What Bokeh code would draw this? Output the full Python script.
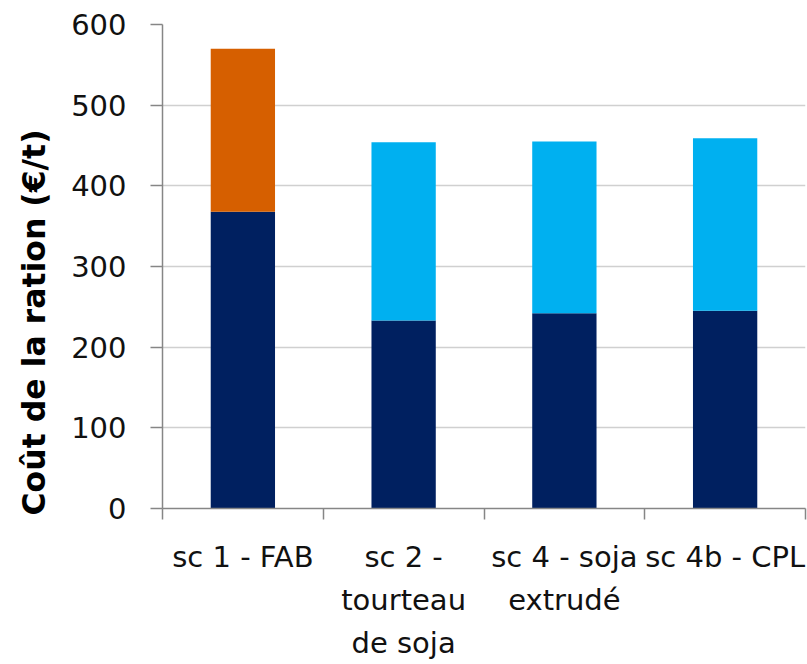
from bokeh.plotting import figure
from bokeh.models import (ColumnDataSource, Range1d, FixedTicker, LinearAxis, Title)
from bokeh.embed import file_html
from bokeh.resources import INLINE

# ---- data ----
categories = ["sc 1 - FAB", "sc 2 -\ntourteau\nde soja", "sc 4 - soja\nextrudé", "sc 4b - CPL"]
base_cost = [368, 233, 242, 245]      # dark navy part
fab_cost = [202, 0, 0, 0]             # orange part
soja_cost = [0, 221, 213, 214]        # light blue part
y_ticks = [0, 100, 200, 300, 400, 500, 600]
y_title = "Coût de la ration (€/t)"

n = len(categories)
centers = [i + 0.5 for i in range(n)]
boundaries = list(range(n + 1))
split = [c.split("\n") for c in categories]
n_lines = max(len(s) for s in split)
lines = [[s[k] if k < len(s) else "" for s in split] for k in range(n_lines)]

src = ColumnDataSource(dict(x=centers, base=base_cost, fab=fab_cost, soja=soja_cost))

p = figure(width=807, height=664, output_backend="svg", toolbar_location=None,
           x_range=Range1d(0, n), y_range=Range1d(y_ticks[0], y_ticks[-1]),
           min_border_left=162, min_border_right=2, min_border_top=24,
           min_border_bottom=156)
p.outline_line_color = None
p.background_fill_color = "white"
p.border_fill_color = "white"

p.vbar_stack(["base", "fab", "soja"], x="x", width=0.4, source=src,
             color=["#002060", "#D65F00", "#00B0F0"], line_color=None)

# grid
p.xgrid.grid_line_color = None
p.ygrid.grid_line_color = "#D0D0D0"
p.ygrid.grid_line_width = 1.5
p.ygrid.ticker = FixedTicker(ticks=y_ticks)

# y axis
yax = p.yaxis[0]
yax.ticker = FixedTicker(ticks=y_ticks)
yax.axis_line_color = "#868686"
yax.axis_line_width = 1.5
yax.major_tick_line_color = "#868686"
yax.major_tick_line_width = 1.5
yax.major_tick_out = 12
yax.major_tick_in = 0
yax.minor_tick_line_color = None
yax.major_label_text_font = "DejaVu Sans"
yax.major_label_text_font_size = "29px"
yax.major_label_text_color = "#111111"
yax.major_label_standoff = 24

LABEL_FONT = "DejaVu Sans"
LABEL_SIZE = "29px"

# x axis: tick marks at category boundaries, first label line at centers
xax = p.xaxis[0]
xax.ticker = FixedTicker(ticks=centers, minor_ticks=boundaries)
xax.axis_line_color = "#868686"
xax.axis_line_width = 1.5
xax.minor_tick_line_color = "#868686"
xax.minor_tick_line_width = 1.5
xax.minor_tick_out = 11
xax.minor_tick_in = 0
xax.major_tick_line_color = None
xax.major_tick_out = 0
xax.major_tick_in = 0
xax.major_label_overrides = {c: t for c, t in zip(centers, lines[0])}
xax.major_label_text_font = LABEL_FONT
xax.major_label_text_font_size = LABEL_SIZE
xax.major_label_text_color = "#111111"
xax.major_label_standoff = 20

# extra lines of the category labels
for k in range(1, n_lines):
    ax = LinearAxis(ticker=FixedTicker(ticks=centers),
                    major_label_overrides={c: t for c, t in zip(centers, lines[k])})
    ax.axis_line_color = None
    ax.major_tick_line_color = None
    ax.minor_tick_line_color = None
    ax.major_tick_out = 0
    ax.major_tick_in = 0
    ax.major_label_text_font = LABEL_FONT
    ax.major_label_text_font_size = LABEL_SIZE
    ax.major_label_text_color = "#111111"
    ax.major_label_standoff = 6
    p.add_layout(ax, "below")

# y title, placed in the left panel
t = Title(text=y_title, align="left", offset=-7, standoff=30, vertical_align="top",
          text_font="DejaVu Sans", text_font_style="bold", text_font_size="31.5px",
          text_color="#000000")
p.add_layout(t, "left")

open("out.html", "w").write(file_html(p, INLINE))
